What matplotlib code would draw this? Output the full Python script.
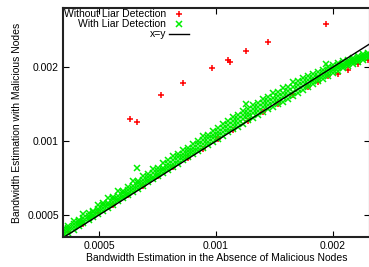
import numpy as np
import matplotlib
matplotlib.use('Agg')
import matplotlib.pyplot as plt
from matplotlib.ticker import FixedLocator, NullLocator, FixedFormatter

plt.rcParams['font.family'] = ['Liberation Sans', 'DejaVu Sans']

# outliers
red_out_x = [0.000601, 0.000626, 0.000722, 0.000823, 0.000977, 0.001073, 0.001087, 0.001194, 0.00136, 0.00192]
red_out_y = [0.001229, 0.001195, 0.001538, 0.00172, 0.001986, 0.00213, 0.0021, 0.00232, 0.00253, 0.002992]
green_out_x = [0.000626, 0.001194, 0.00192]
green_out_y = [0.000777, 0.001414, 0.002057]

# red points inside the dense band (mostly hidden under green), in 1e-3 units
red_band_x = [0.417, 0.456, 0.498, 0.544, 0.594, 0.650, 0.710, 0.776, 0.848, 0.926, 1.012, 1.106,
              1.209, 1.321, 1.443, 1.577, 1.723, 1.828, 1.939, 2.057, 2.183, 2.315, 2.456]
red_band_y = [0.4250, 0.4603, 0.5075, 0.5491, 0.6053, 0.6561, 0.7235, 0.7833, 0.8560, 0.9260, 1.0215, 1.1060,
              1.2090, 1.3091, 1.4156, 1.5328, 1.6592, 1.7439, 1.8324, 1.8729, 1.9510, 2.0495, 2.1439]

# green band: x positions and four rows of y, in 1e-3 units
green_x = [0.405, 0.417, 0.430, 0.443, 0.456, 0.470, 0.484, 0.498, 0.513, 0.528, 0.544, 0.560,
           0.577, 0.594, 0.612, 0.631, 0.650, 0.669, 0.689, 0.710, 0.731, 0.753, 0.776, 0.799,
           0.823, 0.848, 0.873, 0.899, 0.926, 0.954, 0.983, 1.012, 1.043, 1.074, 1.106, 1.139,
           1.173, 1.209, 1.245, 1.282, 1.321, 1.360, 1.401, 1.443, 1.486, 1.531, 1.577, 1.624,
           1.673, 1.723, 1.775, 1.828, 1.883, 1.939, 1.997, 2.057, 2.119, 2.183, 2.248, 2.315,
           2.385, 2.456]
green_top = [0.4406, 0.4494, 0.4722, 0.4775, 0.5055, 0.5114, 0.5217, 0.5469, 0.5581, 0.5853, 0.5919, 0.6266,
             0.6278, 0.6523, 0.6848, 0.6865, 0.7206, 0.7347, 0.7710, 0.7797, 0.8180, 0.8348, 0.8683, 0.8858,
             0.9209, 0.9401, 0.9769, 0.9966, 1.0460, 1.0576, 1.1000, 1.1324, 1.1782, 1.2018, 1.2493, 1.2745,
             1.3250, 1.3529, 1.4064, 1.4346, 1.4782, 1.5077, 1.5677, 1.5847, 1.6474, 1.6657, 1.7319, 1.7503,
             1.8032, 1.8398, 1.8776, 1.9157, 1.9549, 1.9943, 2.0347, 2.0763, 2.1190, 2.1424, 2.1857, 2.2090,
             2.2545, 2.2784]
green_upper = [0.4304, 0.4411, 0.4592, 0.4686, 0.4869, 0.4972, 0.5168, 0.5268, 0.5478, 0.5585, 0.5809, 0.5980,
               0.6161, 0.6343, 0.6535, 0.6738, 0.6941, 0.7144, 0.7426, 0.7581, 0.7787, 0.8041, 0.8364, 0.8612,
               0.8870, 0.9140, 0.9409, 0.9689, 1.0075, 1.0282, 1.0595, 1.0907, 1.1348, 1.1576, 1.2033, 1.2276,
               1.2762, 1.3031, 1.3546, 1.3817, 1.4238, 1.4522, 1.4960, 1.5264, 1.5719, 1.6045, 1.6527, 1.6860,
               1.7369, 1.7721, 1.8085, 1.8452, 1.8919, 1.9390, 1.9784, 2.0187, 2.0603, 2.1027, 2.1451, 2.1782,
               2.2126, 2.2468]
green_mid = [0.4205, 0.4329, 0.4464, 0.4599, 0.4734, 0.4880, 0.5025, 0.5170, 0.5326, 0.5482, 0.5648, 0.5814,
             0.5990, 0.6167, 0.6354, 0.6551, 0.6748, 0.6946, 0.7153, 0.7371, 0.7624, 0.7854, 0.8094, 0.8334,
             0.8584, 0.8845, 0.9105, 0.9377, 0.9704, 0.9950, 1.0253, 1.0555, 1.0931, 1.1202, 1.1591, 1.1880,
             1.2293, 1.2610, 1.2985, 1.3310, 1.3715, 1.3988, 1.4409, 1.4703, 1.5070, 1.5454, 1.5844, 1.6240,
             1.6730, 1.7149, 1.7585, 1.8026, 1.8480, 1.8942, 1.9417, 1.9813, 2.0220, 2.0636, 2.1053, 2.1377,
             2.1715, 2.2153]
green_bot = [0.4107, 0.4229, 0.4361, 0.4492, 0.4624, 0.4766, 0.4908, 0.5050, 0.5202, 0.5354, 0.5517, 0.5679,
             0.5851, 0.6024, 0.6206, 0.6399, 0.6592, 0.6784, 0.6987, 0.7200, 0.7413, 0.7636, 0.7869, 0.8103,
             0.8346, 0.8600, 0.8853, 0.9075, 0.9347, 0.9630, 0.9922, 1.0215, 1.0528, 1.0841, 1.1164, 1.1444,
             1.1785, 1.2147, 1.2450, 1.2820, 1.3148, 1.3474, 1.3815, 1.4162, 1.4448, 1.4886, 1.5261, 1.5715,
             1.6114, 1.6596, 1.7017, 1.7525, 1.7968, 1.8417, 1.8878, 1.9354, 1.9751, 2.0158, 2.0565, 2.0981,
             2.1413, 2.1846]

line_x = [0.0004, 0.0026]

ticks = [0.0005, 0.001, 0.002]
tick_labels = ['0.0005', '0.001', '0.002']

RED = '#ff0000'
GREEN = '#00ee00'

fig = plt.figure(figsize=(3.69, 2.67), dpi=100)
ax = fig.add_axes([63/369, 30/267, 307/369, 229/267])
ax.set_xscale('log')
ax.set_yscale('log')

mk = dict(linestyle='none', markersize=5, markeredgewidth=1.1)
ax.plot(red_out_x, red_out_y, '+', color=RED, **mk)
ax.plot(np.array(red_band_x) * 1e-3, np.array(red_band_y) * 1e-3, '+', color=RED, **mk)
gx = np.array(green_x) * 1e-3
for row in (green_bot, green_mid, green_upper, green_top):
    ax.plot(gx, np.array(row) * 1e-3, 'x', color=GREEN, **mk)
ax.plot(green_out_x, green_out_y, 'x', color=GREEN, **mk)
ax.plot(line_x, line_x, color='black', lw=1.0)

ax.set_xlim(0.000404, 0.00249)
ax.set_ylim(0.000407, 0.00348)

for axis in (ax.xaxis, ax.yaxis):
    axis.set_major_locator(FixedLocator(ticks))
    axis.set_major_formatter(FixedFormatter(tick_labels))
    axis.set_minor_locator(NullLocator())
ax.tick_params(which='both', direction='in', top=True, right=True, length=4, width=0.8,
               labelsize=7.5, pad=3)
for s in ax.spines.values():
    s.set_linewidth(1.5)
    s.set_color('#222222')

ax.set_xlabel('Bandwidth Estimation in the Absence of Malicious Nodes', fontsize=7.5, labelpad=1)
ax.set_ylabel('Bandwidth Estimation with Malicious Nodes', fontsize=7.5, labelpad=4)

# gnuplot-style key in the top left corner
labels = ['Without Liar Detection', 'With Liar Detection', 'x=y']
ys = [0.974, 0.930, 0.886]
for lab, yy in zip(labels, ys):
    ax.text(0.3355, yy, lab, transform=ax.transAxes, ha='right', va='center', fontsize=7.5)
ax.plot([0.378], [ys[0]], '+', color=RED, transform=ax.transAxes, clip_on=False, **mk)
ax.plot([0.378], [ys[1]], 'x', color=GREEN, transform=ax.transAxes, clip_on=False, **mk)
ax.plot([0.345, 0.41], [ys[2], ys[2]], color='black', lw=1.0, transform=ax.transAxes)

fig.savefig('out.png', dpi=100)
